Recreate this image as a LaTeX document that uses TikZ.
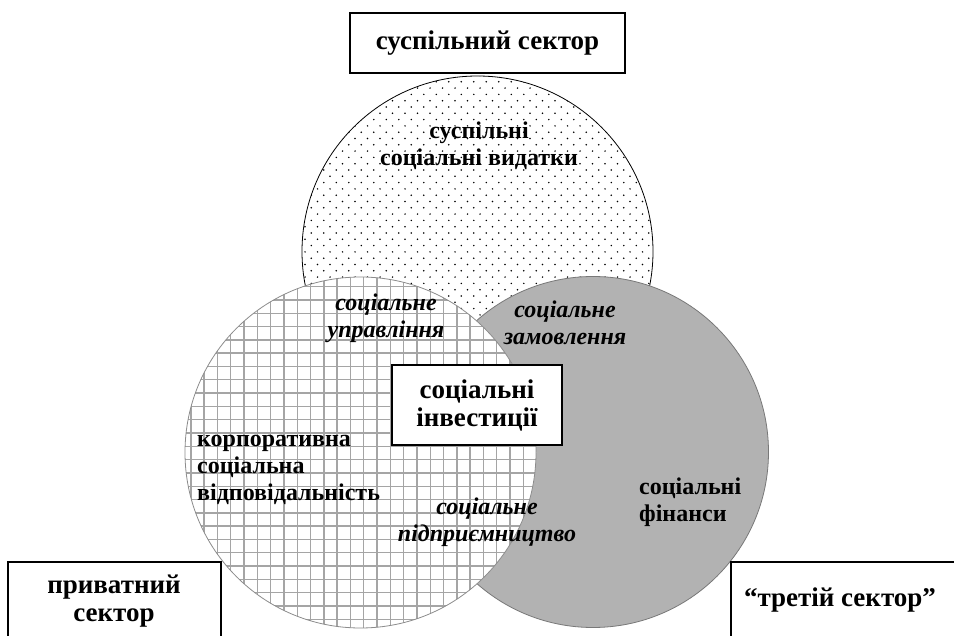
\documentclass[tikz,border=0pt]{standalone}
\usepackage{fontspec}
\setmainfont{Liberation Serif}
\definecolor{greyfill}{RGB}{178,178,178}
\definecolor{greyline}{RGB}{120,120,120}
\definecolor{gridc}{RGB}{165,165,165}
\definecolor{gridedge}{RGB}{140,140,140}
\tikzset{
  lbl/.style={font=\fontsize{24}{27}\selectfont\bfseries, align=center, inner sep=0pt},
  ilbl/.style={font=\fontsize{24}{27}\selectfont\bfseries\itshape, align=center, inner sep=0pt},
  big/.style={font=\fontsize{27}{28}\selectfont\bfseries, align=center, inner sep=0pt},
  boxst/.style={draw=black, line width=1.5pt, fill=white, inner sep=0pt, outer sep=0pt},
  venn/.style={circle, inner sep=0pt, outer sep=0pt, minimum size=351pt}
}
\begin{document}
\begin{tikzpicture}[x=1pt,y=-1pt]
\useasboundingbox (0,0) rectangle (954,636);
\clip (0,0) rectangle (954,636);
\fill[white] (0,0) rectangle (954,636);
% public sector circle (dotted)
\node[venn, fill=white, draw=black, line width=0.8pt,
  path picture={
    \foreach \j in {-29,...,29}{
      \pgfmathsetmacro\sh{mod(abs(\j),2)*6.25}
      \foreach \i in {-15,...,15}{
        \fill[black] ([shift={(\i*12.5+\sh+2.5,\j*6.3+0.4)}]path picture bounding box.center) circle (0.85pt);
      }
    }
  }] (pub) at (477.5,251.5) {};
% third sector circle (grey)
\node[venn, fill=greyfill, draw=greyline, line width=0.8pt] (third) at (593,452) {};
% private sector circle (grid)
\node[venn, fill=white, draw=gridedge, line width=0.8pt,
  path picture={
    \foreach \i in {-14,...,14}{
      \draw[gridc, line width=1.4pt] ([shift={(\i*13.3+3.2,-180)}]path picture bounding box.center) -- ([shift={(\i*13.3+3.2,180)}]path picture bounding box.center);
      \draw[gridc, line width=1.4pt] ([shift={(-180,\i*13.3+7.1)}]path picture bounding box.center) -- ([shift={(180,\i*13.3+7.1)}]path picture bounding box.center);
    }
  }] (priv) at (360.5,452.5) {};
% labels inside circles
\node[lbl] (t1) at (479,146) {суспільні\\соціальні видатки};
\node[ilbl] (t2) at (386,318) {соціальне\\управління};
\node[ilbl] (t3) at (565,323) {соціальне\\замовлення};
\node[ilbl] (t4) at (487,522) {соціальне\\підприємництво};
\node[lbl, align=left, anchor=west] (t5) at (197,470) {корпоративна\\соціальна\\відповідальність};
\node[lbl, align=left, anchor=west] (t6) at (639,502) {соціальні\\фінанси};
% boxes
\node[boxst, big, minimum width=170pt, minimum height=80pt] (inv) at (477,405) {соціальні\\інвестиції};
\node[boxst, big, minimum width=275pt, minimum height=60pt] (pubbox) at (487.5,43) {суспільний сектор};
\node[boxst, minimum width=213pt, minimum height=100pt, anchor=north west] (privbox) at (8,562) {};
\node[big] (privtxt) at (114,601) {приватний\\сектор};
\node[boxst, minimum width=240pt, minimum height=100pt, anchor=north west] (thirdbox) at (731,562) {};
\node[big] (thirdtxt) at (840,600) {“третій сектор”};
\end{tikzpicture}
\end{document}
